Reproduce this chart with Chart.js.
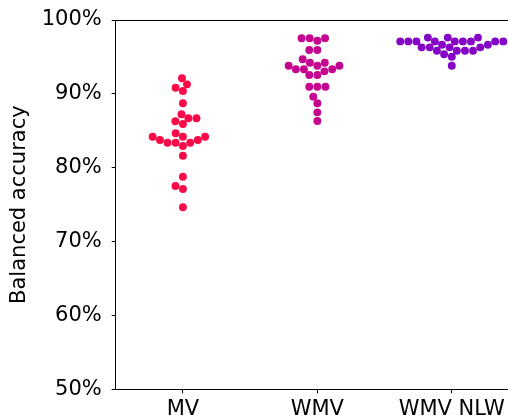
<!DOCTYPE html>
<html>
<head>
<meta charset="utf-8">
<script src="https://cdn.jsdelivr.net/npm/chart.js@4.4.0/dist/chart.umd.min.js"></script>
<style>
  html, body { margin: 0; padding: 0; background: #fff; overflow: hidden; }
</style>
</head>
<body>
<canvas id="chart" width="540" height="419"></canvas>
<script>
// DATA
var categories = ['MV', 'WMV', 'WMV NLW']
var mvValues = [92.11, 91.29, 90.83, 90.39, 88.72, 87.23, 86.69, 86.69, 86.29, 85.92,
  84.66, 84.20, 84.20, 84.20, 83.75, 83.75, 83.39, 83.39, 83.39, 82.94,
  81.63, 78.78, 77.53, 77.12, 74.64]
var wmvValues = [97.52, 97.52, 97.52, 97.20, 95.94, 95.94, 94.68, 94.22, 94.22, 93.81,
  93.81, 93.81, 93.33, 93.33, 93.33, 93.05, 92.55, 92.55, 90.97, 90.97,
  90.97, 89.62, 88.72, 87.50, 86.33]
var nlwValues = [97.62, 97.62, 97.62, 97.10, 97.10, 97.10, 97.10, 97.10, 97.10, 97.10,
  97.10, 97.10, 96.65, 96.65, 96.30, 96.30, 96.30, 96.30, 95.84, 95.84,
  95.84, 95.84, 95.36, 95.03, 93.81]
var colors = ['#fa0a48', '#c4068e', '#8406c4']
var yTicks = [50, 60, 70, 80, 90, 100]

Chart.defaults.font.family = 'DejaVu Sans'
Chart.defaults.font.size = 21
Chart.defaults.color = '#000'

var R = 3.85 // marker radius in px, used for the swarm

var chart = new Chart(document.getElementById('chart'), {
  type: 'scatter',
  data: {
    datasets: [mvValues, wmvValues, nlwValues].map(function (vals, i) {
      return {
        label: categories[i],
        data: [],
        backgroundColor: colors[i],
        borderWidth: 0,
        pointRadius: R + 0.1,
        pointHoverRadius: R + 0.1
      }
    })
  },
  options: {
    responsive: false,
    animation: false,
    layout: { padding: { top: 20, right: 21, left: 0, bottom: 0 } },
    plugins: { legend: { display: false }, tooltip: { enabled: false } },
    scales: {
      x: {
        type: 'linear',
        min: -0.5,
        max: 2.5,
        afterBuildTicks: function (scale) {
          scale.ticks = categories.map(function (c, i) { return { value: i } })
        },
        afterFit: function (scale) { scale.height = 29.7 },
        ticks: {
          padding: 4,
          callback: function (v) { return categories[v] }
        },
        grid: { drawOnChartArea: false, tickLength: 4, tickColor: '#000' },
        border: { color: '#000', width: 1 }
      },
      y: {
        min: 50,
        max: 100,
        afterBuildTicks: function (scale) {
          scale.ticks = yTicks.map(function (v) { return { value: v } })
        },
        afterFit: function (scale) {
          scale.width = 115.7
          scale.paddingTop = 0
          scale.paddingBottom = 0
        },
        ticks: {
          padding: 10,
          callback: function (v) { return v + '%' }
        },
        grid: {
          tickLength: 4,
          tickColor: '#000',
          color: function (ctx) { return ctx.tick && ctx.tick.value === 100 ? '#000' : 'rgba(0,0,0,0)' }
        },
        border: { color: '#000', width: 1 },
        title: { display: true, text: 'Balanced accuracy', padding: { top: 7, bottom: 0 } }
      }
    }
  }
})

// swarm layout (same idea as seaborn's beeswarm), done in pixels
function swarm(values, center) {
  var xs = chart.scales.x
  var ys = chart.scales.y
  var cx = xs.getPixelForValue(center)
  var half = xs.getPixelForValue(center + 0.4) - cx
  var pts = values.map(function (v) { return { v: v, y: -ys.getPixelForValue(v), x: cx } })
  pts.sort(function (a, b) { return a.y - b.y })
  var placed = []
  pts.forEach(function (p) {
    var neighbors = []
    for (var j = placed.length - 1; j >= 0; j--) {
      if (p.y - placed[j].y < 2 * R) neighbors.push(placed[j])
      else break
    }
    var cands = [cx]
    var leftFirst = true
    neighbors.forEach(function (n) {
      var dy = p.y - n.y
      var dx = Math.sqrt(Math.max(4 * R * R - dy * dy, 0)) * 1.05
      if (leftFirst) cands.push(n.x - dx, n.x + dx)
      else cands.push(n.x + dx, n.x - dx)
      leftFirst = !leftFirst
    })
    // closest to the middle first, left side wins a tie
    cands.sort(function (a, b) {
      var d = Math.abs(a - cx) - Math.abs(b - cx)
      return Math.abs(d) < 1e-6 ? a - b : d
    })
    for (var k = 0; k < cands.length; k++) {
      var ok = neighbors.every(function (n) {
        var ddx = n.x - cands[k], ddy = n.y - p.y
        return ddx * ddx + ddy * ddy >= 4 * R * R - 1e-6
      })
      if (ok) { p.x = cands[k]; break }
    }
    placed.push(p)
  })
  return placed.map(function (p) {
    var x = Math.min(Math.max(p.x, cx - half), cx + half)
    return { x: xs.getValueForPixel(x), y: p.v }
  })
}

chart.data.datasets[0].data = swarm(mvValues, 0)
chart.data.datasets[1].data = swarm(wmvValues, 1)
chart.data.datasets[2].data = swarm(nlwValues, 2)
chart.update('none')
</script>
</body>
</html>
